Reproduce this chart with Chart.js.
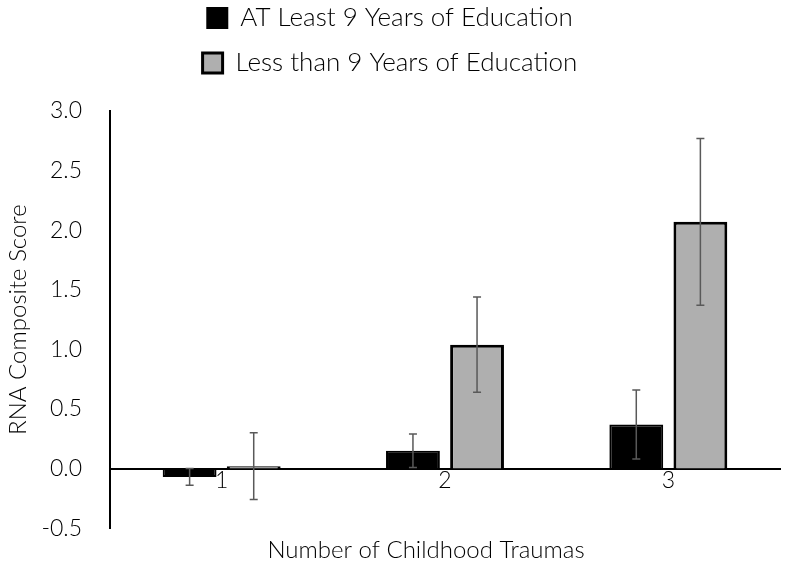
<!DOCTYPE html>
<html><head><meta charset="utf-8">
<script src="https://cdn.jsdelivr.net/npm/chart.js@4"></script>
<style>html,body{margin:0;padding:0;background:#fff;}</style>
</head><body>
<canvas id="c" width="800" height="565"></canvas>
<script>
const categories = ['1', '2', '3'];
const seriesNames = ['AT Least 9 Years of Education', 'Less than 9 Years of Education'];
const atLeast9 = [-0.07, 0.15, 0.37];
const atLeast9Err = [0.07, 0.14, 0.29];
const lessThan9 = [0.02, 1.04, 2.07];
const lessThan9Err = [0.28, 0.40, 0.70];
const yMin = -0.5, yMax = 3.0, yStep = 0.5;
const yTitle = 'RNA Composite Score';
const xTitle = 'Number of Childhood Traumas';

const FONT = 'Lato';

const errorBars = {
  id: 'errorBars',
  afterDatasetsDraw(chart) {
    const ctx = chart.ctx, y = chart.scales.y;
    chart.data.datasets.forEach((ds, i) => {
      const meta = chart.getDatasetMeta(i);
      meta.data.forEach((bar, j) => {
        const v = ds.data[j], e = ds.errors[j];
        const top = y.getPixelForValue(v + e), bot = y.getPixelForValue(v - e);
        ctx.save();
        ctx.strokeStyle = '#595959';
        ctx.lineWidth = 1.5;
        ctx.beginPath();
        ctx.moveTo(bar.x, top); ctx.lineTo(bar.x, bot);
        ctx.moveTo(bar.x - 4, top); ctx.lineTo(bar.x + 4, top);
        ctx.moveTo(bar.x - 4, bot); ctx.lineTo(bar.x + 4, bot);
        ctx.stroke();
        ctx.restore();
      });
    });
  }
};

// the x-axis title in the reference is centred a little left of the plot centre
const shiftXTitle = {
  id: 'shiftXTitle',
  afterLayout(chart) { chart.scales.x2.left -= 38; }
};

new Chart(document.getElementById('c'), {
  type: 'bar',
  data: {
    labels: categories,
    datasets: [
      { label: seriesNames[0], data: atLeast9, errors: atLeast9Err,
        backgroundColor: '#000000', borderColor: '#000000', borderWidth: 2,
        categoryPercentage: 0.574, barPercentage: 0.84 },
      { label: seriesNames[1], data: lessThan9, errors: lessThan9Err,
        backgroundColor: '#afafaf', borderColor: '#000000', borderWidth: 3,
        categoryPercentage: 0.574, barPercentage: 0.84 }
    ]
  },
  options: {
    responsive: false,
    animation: false,
    layout: { padding: { top: -14, left: 0, right: 20, bottom: 0 } },
    plugins: {
      tooltip: { enabled: false },
      legend: {
        position: 'top', align: 'center',
        labels: {
          boxWidth: 20, boxHeight: 20, padding: 19, color: '#000',
          font: { family: FONT, size: 26, weight: '300' }
        }
      },
      title: {
        display: true, text: ' ', weight: 500,
        font: { size: 10, lineHeight: 1 }, padding: { top: 0, bottom: 15 }
      }
    },
    scales: {
      x: {
        position: { y: 0 },
        grid: { display: false, drawTicks: false },
        border: { display: true, color: '#000', width: 2 },
        ticks: { color: '#000', padding: -2, font: { family: FONT, size: 23, weight: '300' } },
        afterFit(s) { s.height = 0; }
      },
      x2: {
        type: 'category', position: 'bottom',
        grid: { display: false, drawTicks: false },
        border: { display: false },
        ticks: { display: false },
        title: { display: true, text: xTitle, color: '#000', padding: { top: 8, bottom: 0 },
                 font: { family: FONT, size: 24, weight: '300' } }
      },
      y: {
        min: yMin, max: yMax,
        grid: { display: false, drawTicks: false },
        border: { display: true, color: '#000', width: 2 },
        ticks: { stepSize: yStep, color: '#000', padding: 28,
                 font: { family: FONT, size: 23, weight: '300' },
                 callback: v => Number(v).toFixed(1) },
        title: { display: true, text: yTitle, color: '#000', padding: { top: 4, bottom: 0 },
                 font: { family: FONT, size: 24, weight: '300' } },
        afterFit(s) { s.width = 110; s.paddingBottom = 0; }
      }
    }
  },
  plugins: [errorBars, shiftXTitle]
});
</script>
</body></html>
